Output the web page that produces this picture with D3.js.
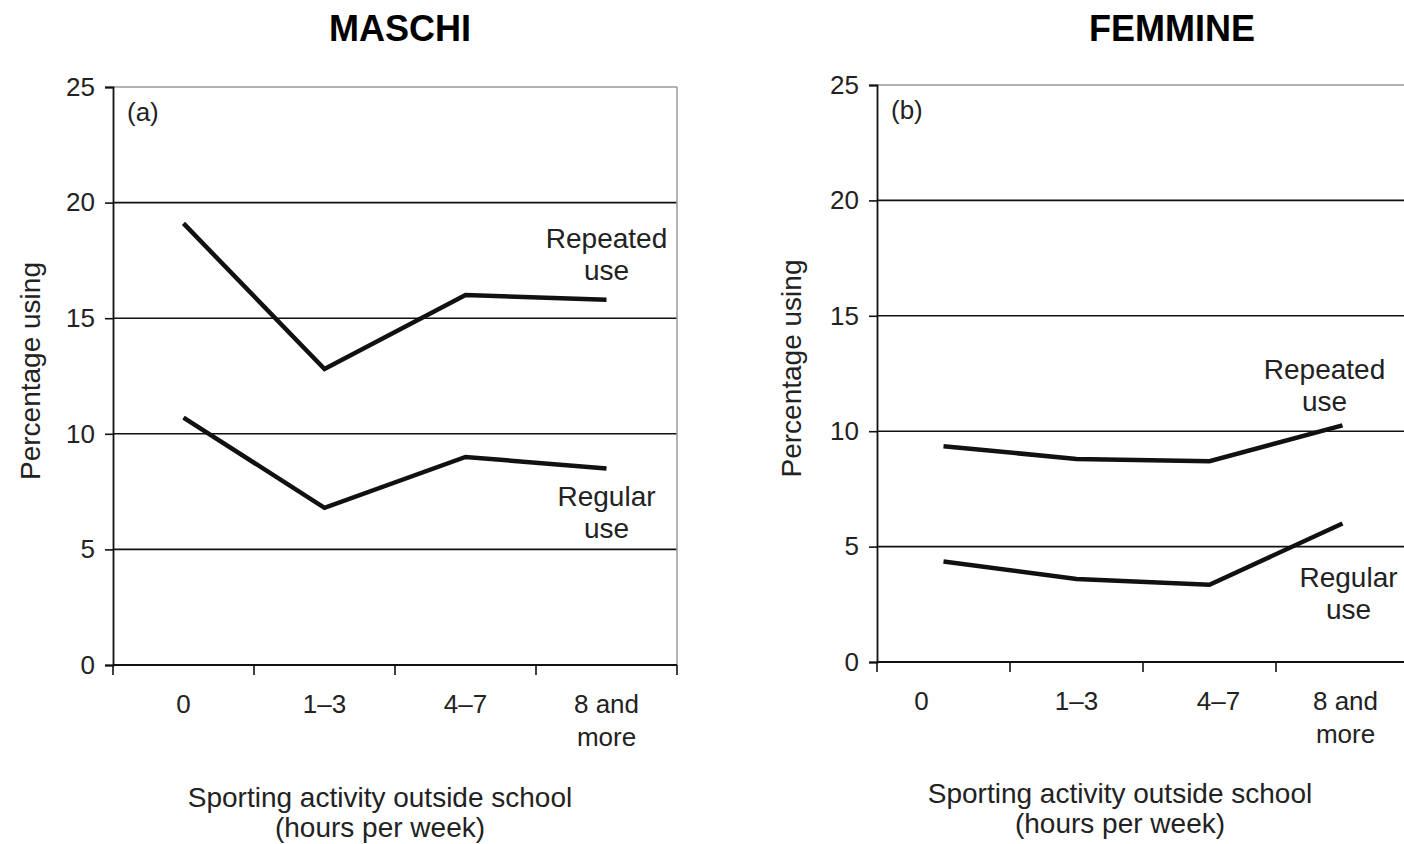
<!DOCTYPE html>
<html>
<head>
<meta charset="utf-8">
<script src="https://cdn.jsdelivr.net/npm/d3@7"></script>
<style>
  html, body { margin: 0; padding: 0; background: #fff; }
  svg { display: block; }
  text { font-family: "Liberation Sans", Arial, Helvetica, sans-serif; fill: #222; }
</style>
</head>
<body>
<svg id="chart" width="1404" height="844"></svg>
<script>
// ---- Data ----
const categories = ["0", "1–3", "4–7", "8 and more"];
const categoryLines = [["0"], ["1–3"], ["4–7"], ["8 and", "more"]];
const yTicks = [0, 5, 10, 15, 20, 25];

const maleRepeated = [19.1, 12.8, 16.0, 15.8];
const maleRegular = [10.7, 6.8, 9.0, 8.5];
const femaleRepeated = [9.35, 8.8, 8.7, 10.25];
const femaleRegular = [4.35, 3.6, 3.35, 6.0];

const panelTitles = ["MASCHI", "FEMMINE"];
const panelTags = ["(a)", "(b)"];
const yTitle = "Percentage using";
const xTitleLines = ["Sporting activity outside school", "(hours per week)"];
const seriesLabels = [["Repeated", "use"], ["Regular", "use"]];

// ---- Layout ----
const svg = d3.select("#chart");

const panels = [
  {
    title: panelTitles[0], tag: panelTags[0],
    repeated: maleRepeated, regular: maleRegular,
    x0: 113, x1: 677, yTop: 87, yBot: 665,
    titleX: 400, yTitleX: 30, xTitleX: 380, xTitleY: 797,
    repLab: { dx: 0, dy: -62 }, regLab: { dx: 0, dy: 28 },
    labelShift: [0, 0, 0, 0],
    rightBorder: true
  },
  {
    title: panelTitles[1], tag: panelTags[1],
    repeated: femaleRepeated, regular: femaleRegular,
    x0: 877, x1: 1409, yTop: 85, yBot: 662,
    titleX: 1172, yTitleX: 791, xTitleX: 1120, xTitleY: 793,
    repLab: { dx: -18, dy: -56 }, regLab: { dx: 6, dy: 54 },
    labelShift: [-22, 0, 9, 3],
    rightBorder: false
  }
];

panels.forEach(p => {
  const g = svg.append("g");

  const x = d3.scaleBand().domain(categories).range([p.x0, p.x1]);
  const y = d3.scaleLinear().domain([0, 25]).range([p.yBot, p.yTop]);

  // Title
  g.append("text")
    .attr("x", p.titleX).attr("y", 41)
    .attr("text-anchor", "middle")
    .style("font-size", "36px").style("font-weight", "bold").style("fill", "#000")
    .text(p.title);

  // Gridlines
  g.selectAll(".grid").data(yTicks.filter(t => t > 0 && t < 25)).join("line")
    .attr("x1", p.x0).attr("x2", p.x1)
    .attr("y1", d => y(d)).attr("y2", d => y(d))
    .attr("stroke", "#111").attr("stroke-width", 1.6);

  // Top border (lighter)
  g.append("line")
    .attr("x1", p.x0).attr("x2", p.x1)
    .attr("y1", y(25)).attr("y2", y(25))
    .attr("stroke", "#9a9a9a").attr("stroke-width", 1.5);

  if (p.rightBorder) {
    g.append("line")
      .attr("x1", p.x1).attr("x2", p.x1)
      .attr("y1", y(25)).attr("y2", y(0))
      .attr("stroke", "#9a9a9a").attr("stroke-width", 1.5);
  }

  // Y axis
  const yAxis = d3.axisLeft(y).tickValues(yTicks).tickSize(8).tickPadding(10).tickFormat(d3.format("d"));
  const ya = g.append("g").attr("transform", `translate(${p.x0},0)`).call(yAxis);
  ya.select(".domain").attr("stroke", "#111").attr("stroke-width", 1.8);
  ya.selectAll(".tick line").attr("stroke", "#111").attr("stroke-width", 1.6);
  ya.selectAll(".tick text").style("font-size", "26px").style("fill", "#222")
    .attr("font-family", "Liberation Sans, Arial, sans-serif");

  // X axis baseline
  g.append("line")
    .attr("x1", p.x0).attr("x2", p.x1)
    .attr("y1", y(0)).attr("y2", y(0))
    .attr("stroke", "#111").attr("stroke-width", 1.8);

  // X ticks at band boundaries
  const bounds = categories.map(c => x(c)).concat([x(categories[categories.length - 1]) + x.bandwidth()]);
  g.selectAll(".xtick").data(bounds).join("line")
    .attr("x1", d => d).attr("x2", d => d)
    .attr("y1", y(0)).attr("y2", y(0) + 10)
    .attr("stroke", "#111").attr("stroke-width", 1.6);

  // X tick labels
  categories.forEach((c, i) => {
    const cx = x(c) + x.bandwidth() / 2 + p.labelShift[i];
    const t = g.append("text")
      .attr("x", cx)
      .attr("y", y(0) + 48)
      .attr("text-anchor", "middle")
      .style("font-size", "26px");
    categoryLines[i].forEach((ln, j) => {
      t.append("tspan").attr("x", cx).attr("dy", j === 0 ? 0 : 33).text(ln);
    });
  });

  // Y axis title
  g.append("text")
    .attr("transform", `translate(${p.yTitleX},${(p.yTop + p.yBot) / 2 - 5}) rotate(-90)`)
    .attr("text-anchor", "middle")
    .attr("dy", "0.35em")
    .style("font-size", "28px")
    .text(yTitle);

  // X axis title
  xTitleLines.forEach((ln, j) => {
    g.append("text")
      .attr("x", p.xTitleX).attr("y", p.xTitleY + j * 30)
      .attr("text-anchor", "middle").attr("dy", "0.35em")
      .style("font-size", "28px")
      .text(ln);
  });

  // Panel tag
  g.append("text")
    .attr("x", p.x0 + 14).attr("y", y(25) + 25)
    .attr("dy", "0.35em")
    .style("font-size", "26px")
    .text(p.tag);

  // Lines
  const line = d3.line()
    .x((d, i) => x(categories[i]) + x.bandwidth() / 2)
    .y(d => y(d));

  [p.repeated, p.regular].forEach(series => {
    g.append("path")
      .datum(series)
      .attr("d", line)
      .attr("fill", "none")
      .attr("stroke", "#111")
      .attr("stroke-width", 4.5)
      .attr("stroke-linejoin", "miter");
  });

  // Series labels (anchored to last point)
  const last = categories.length - 1;
  const lx = x(categories[last]) + x.bandwidth() / 2;
  [[p.repeated, p.repLab, seriesLabels[0]], [p.regular, p.regLab, seriesLabels[1]]].forEach(([s, off, lines]) => {
    lines.forEach((ln, j) => {
      g.append("text")
        .attr("x", lx + off.dx)
        .attr("y", y(s[last]) + off.dy + j * 32)
        .attr("text-anchor", "middle").attr("dy", "0.35em")
        .style("font-size", "28px")
        .text(ln);
    });
  });
});
</script>
</body>
</html>
